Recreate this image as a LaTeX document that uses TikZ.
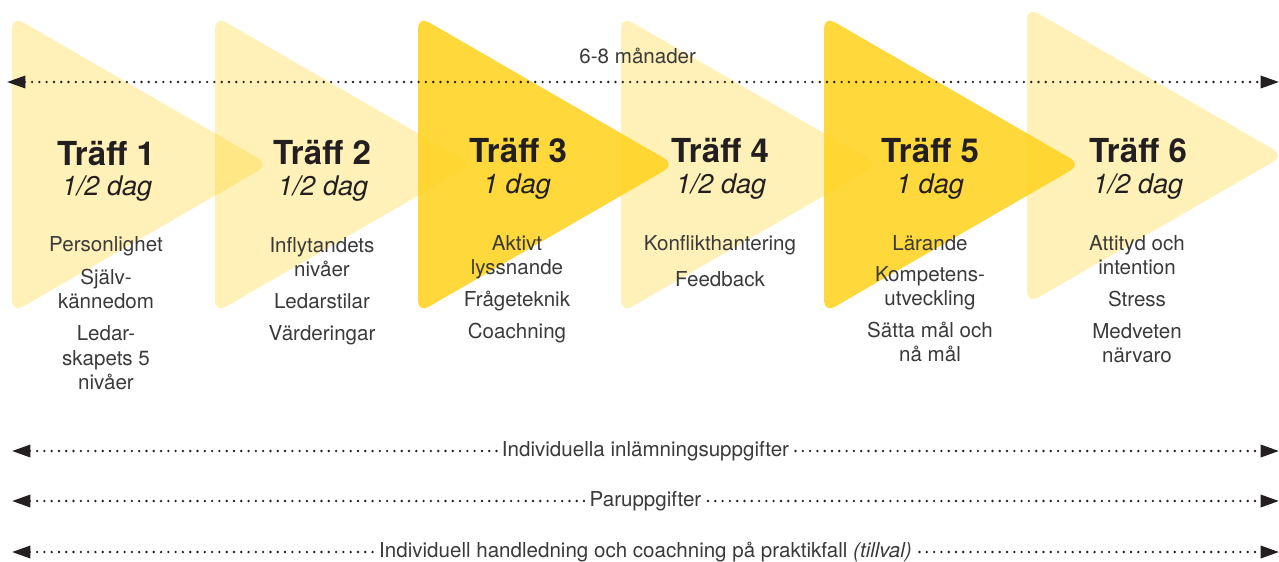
\documentclass[tikz,border=0pt]{standalone}
\usepackage{fontspec}
\setmainfont{TeX Gyre Heros}
\usetikzlibrary{arrows.meta}
\definecolor{traffyellow}{HTML}{FFD21F}
\definecolor{inkdark}{HTML}{231F20}
\definecolor{inkgray}{HTML}{3A3A3A}
\tikzset{
  lighttri/.style={fill=traffyellow,fill opacity=0.32,rounded corners=7pt},
  darktri/.style={fill=traffyellow,fill opacity=0.87,rounded corners=7pt},
  heading/.style={anchor=base,inner sep=0pt,text=inkdark,font=\fontsize{18.8}{22}\selectfont\bfseries},
  days/.style={anchor=base,inner sep=0pt,text=inkdark,font=\fontsize{15.4}{18}\selectfont\itshape},
  topics/.style={anchor=north,inner sep=0pt,align=center,text=inkgray,font=\fontsize{11.7}{13.7}\selectfont},
  period/.style={draw=inkdark,line width=1.5pt,line cap=round,dash pattern=on 0pt off 4.15pt,
    {Triangle[length=10.5pt,width=7pt]}-{Triangle[length=10.5pt,width=7pt]}},
  tasklabel/.style={fill=white,text=inkgray,inner xsep=2.5pt,inner ysep=0pt,text height=8.5pt,text depth=2.5pt,
    font=\fontsize{11.7}{13.7}\selectfont}
}
\begin{document}
\begin{tikzpicture}[x=2cm,y=-2cm]
    \useasboundingbox (0,0) rectangle (12.79,5.61);
    % the six meetings
    \fill [lighttri] (0.12,0.16) -- (2.69,1.645) -- (0.12,3.13) -- cycle;
    \fill [lighttri] (2.15,0.16) -- (4.72,1.645) -- (2.15,3.13) -- cycle;
    \fill [darktri]  (4.18,0.16) -- (6.75,1.645) -- (4.18,3.13) -- cycle;
    \fill [lighttri] (6.21,0.16) -- (8.78,1.645) -- (6.21,3.13) -- cycle;
    \fill [darktri]  (8.24,0.16) -- (10.81,1.645) -- (8.24,3.13) -- cycle;
    \fill [lighttri] (10.27,0.07) -- (12.84,1.555) -- (10.27,3.04) -- cycle;

    \node (traff1) at (1.06,1.65) [heading] {Träff 1};
    \node (dag1) at (1.07,1.955) [days] {1/2 dag};
    \node (topics1) at (1.06,2.365) [topics] {Personlighet\\[4.8pt]Själv-\\kännedom\\[4.8pt]Ledar-\\skapets 5\\nivåer};

    \node (traff2) at (3.22,1.64) [heading] {Träff 2};
    \node (dag2) at (3.23,1.955) [days] {1/2 dag};
    \node (topics2) at (3.22,2.375) [topics] {Inflytandets\\nivåer\\[4.3pt]Ledarstilar\\[4.3pt]Värderingar};

    \node (traff3) at (5.18,1.62) [heading] {Träff 3};
    \node (dag3) at (5.17,1.935) [days] {1 dag};
    \node (topics3) at (5.17,2.355) [topics] {Aktivt\\lyssnande\\[4.3pt]Frågeteknik\\[4.3pt]Coachning};

    \node (traff4) at (7.20,1.62) [heading] {Träff 4};
    \node (dag4) at (7.21,1.935) [days] {1/2 dag};
    \node (topics4) at (7.20,2.355) [topics] {Konflikthantering\\[6.3pt]Feedback};

    \node (traff5) at (9.30,1.62) [heading] {Träff 5};
    \node (dag5) at (9.30,1.935) [days] {1 dag};
    \node (topics5) at (9.30,2.355) [topics] {Lärande\\[3.8pt]Kompetens-\\utveckling\\[4.5pt]Sätta mål och\\nå mål};

    \node (traff6) at (11.38,1.62) [heading] {Träff 6};
    \node (dag6) at (11.38,1.935) [days] {1/2 dag};
    \node (topics6) at (11.37,2.355) [topics] {Attityd och\\intention\\[4.3pt]Stress\\[4.3pt]Medveten\\närvaro};

    % time span and the tasks in between
    \coordinate (spanL) at (0.07,0.82);
    \coordinate (spanR) at (12.79,0.82);
    \draw [period] (spanL) -- node [above=6pt,xshift=-3pt,text=inkgray,font=\fontsize{11.7}{13.7}\selectfont] (spanlabel) {6-8 månader} (spanR);
    \coordinate (soloL) at (0.12,4.51);
    \coordinate (soloR) at (12.79,4.51);
    \draw [period] (soloL) -- node [tasklabel] (sololabel) {Individuella inlämningsuppgifter} (soloR);
    \coordinate (pairL) at (0.12,5.01);
    \coordinate (pairR) at (12.79,5.01);
    \draw [period] (pairL) -- node [tasklabel] (pairlabel) {Paruppgifter} (pairR);
    \coordinate (coachL) at (0.12,5.52);
    \coordinate (coachR) at (12.79,5.52);
    \draw [period] (coachL) -- node [tasklabel] (coachlabel) {Individuell handledning och coachning på praktikfall \textit{(tillval)}} (coachR);
  \end{tikzpicture}
\end{document}
